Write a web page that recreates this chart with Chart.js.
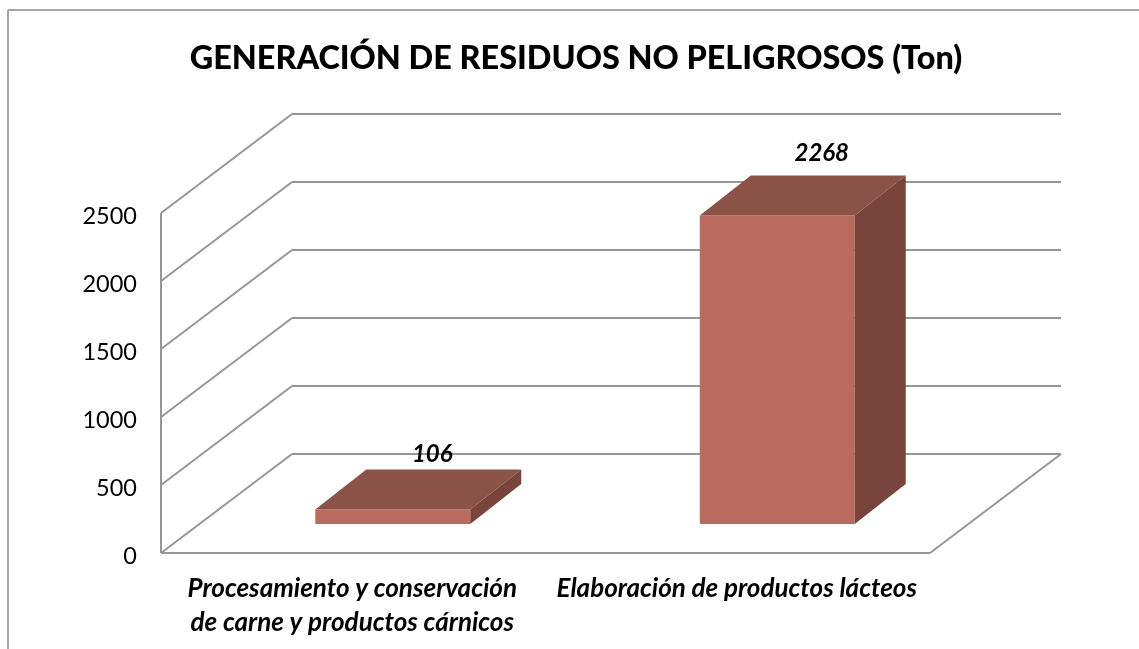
<!DOCTYPE html>
<html>
<head>
<meta charset="utf-8">
<title>Generación de residuos no peligrosos</title>
<script src="https://cdn.jsdelivr.net/npm/chart.js@4/dist/chart.umd.min.js"></script>
<style>
  body { margin: 0; background: #fff; }
  canvas { display: block; }
</style>
</head>
<body>
<canvas id="myChart" width="1139" height="649"></canvas>
<script>
var categories = [
    ['Procesamiento y conservación', 'de carne y productos cárnicos'],
    'Elaboración de productos lácteos'
];
var residuos = [106, 2268];
var yMin = 0;
var yMax = 2500;
var yStep = 500;

// depth of the fake 3D box, in pixels
var boxDx = 131, boxDy = 99;
var barShiftX = 39.5, barShiftY = 29;
var barDx = 51, barDy = 40;
var labelShift = [79, 84];
var labelLift = [55, 62];

var gridColor = '#969696';
var frontColor = '#b96b5e', topColor = '#8b5347', sideColor = '#79443b';

function poly(ctx, pts, color) {
    ctx.fillStyle = color;
    ctx.beginPath();
    pts.forEach(function (p, i) {
        if (i == 0) ctx.moveTo(p[0], p[1]);
        else ctx.lineTo(p[0], p[1]);
    });
    ctx.closePath();
    ctx.fill();
}

function line(ctx, x1, y1, x2, y2) {
    ctx.beginPath();
    ctx.moveTo(x1, y1);
    ctx.lineTo(x2, y2);
    ctx.stroke();
}

var box3d = {
    id: 'box3d',
    afterLayout: function (chart) {
        // title is centred on the whole frame, not on the plot
        chart.titleBlock.left = 13;
        chart.titleBlock.right = 1139;
    },
    beforeDraw: function (chart) {
        var ctx = chart.ctx;
        ctx.save();
        ctx.strokeStyle = '#a6a6a6';
        ctx.lineWidth = 2;
        line(ctx, 8, 649, 8, 10);
        line(ctx, 8, 10, 1139, 10);
        ctx.restore();
    },
    beforeDatasetsDraw: function (chart) {
        var ctx = chart.ctx, a = chart.chartArea, y = chart.scales.y;
        ctx.save();
        ctx.strokeStyle = gridColor;
        ctx.lineWidth = 2;
        y.ticks.forEach(function (t) {
            var py = y.getPixelForValue(t.value);
            line(ctx, a.left, py, a.left + boxDx, py - boxDy);
            line(ctx, a.left + boxDx, py - boxDy, a.right + boxDx, py - boxDy);
        });
        line(ctx, a.left, a.top, a.left, a.bottom);
        line(ctx, a.left, a.bottom, a.right, a.bottom);
        line(ctx, a.right, a.bottom, a.right + boxDx, a.bottom - boxDy);
        ctx.restore();

        // bars stand in the middle of the floor
        ctx.save();
        ctx.translate(barShiftX, -barShiftY);
    },
    afterDatasetsDraw: function (chart) {
        var ctx = chart.ctx;
        ctx.restore();
        chart.getDatasetMeta(0).data.forEach(function (bar, i) {
            var l = bar.x - bar.width / 2 + barShiftX;
            var r = bar.x + bar.width / 2 + barShiftX;
            var t = bar.y - barShiftY;
            var b = bar.base - barShiftY;
            poly(ctx, [[l, t], [r, t], [r + barDx, t - barDy], [l + barDx, t - barDy]], topColor);
            poly(ctx, [[r, t], [r + barDx, t - barDy], [r + barDx, b - barDy], [r, b]], sideColor);

            ctx.save();
            ctx.font = 'italic bold 24px Lato';
            ctx.fillStyle = '#000';
            ctx.textAlign = 'center';
            ctx.textBaseline = 'middle';
            ctx.fillText(residuos[i], bar.x + labelShift[i], t - labelLift[i]);
            ctx.restore();
        });
    }
};

var ctx = document.getElementById('myChart');
var myChart = new Chart(ctx, {
    type: 'bar',
    data: {
        labels: categories,
        datasets: [{
            data: residuos,
            backgroundColor: frontColor,
            barPercentage: 0.403,
            categoryPercentage: 1,
            clip: false
        }]
    },
    plugins: [box3d],
    options: {
        responsive: false,
        animation: false,
        layout: {
            padding: { left: 0, right: 209, top: 0, bottom: 0 }
        },
        plugins: {
            legend: { display: false },
            tooltip: { enabled: false },
            title: {
                display: true,
                text: 'GENERACIÓN DE RESIDUOS NO PELIGROSOS (Ton)',
                color: '#000',
                font: { family: 'Lato', size: 32.4, weight: 900, lineHeight: 1.2 },
                padding: { top: 39, bottom: 135.1 }
            }
        },
        scales: {
            x: {
                grid: { display: false },
                border: { display: false },
                afterFit: function (scale) { scale.height = 96; },
                ticks: {
                    color: '#000',
                    autoSkip: false,
                    maxRotation: 0,
                    padding: 11,
                    labelOffset: -1,
                    font: { family: 'Lato', size: 26, style: 'italic', weight: 'bold', lineHeight: 1.3 }
                }
            },
            y: {
                min: yMin,
                max: yMax,
                grid: { display: false, drawTicks: false },
                border: { display: false },
                afterFit: function (scale) { scale.width = 161; },
                ticks: {
                    stepSize: yStep,
                    color: '#000',
                    padding: 24,
                    labelOffset: 3,
                    format: { useGrouping: false },
                    font: { family: 'Lato', size: 23.5 }
                }
            }
        }
    }
});
</script>
</body>
</html>
